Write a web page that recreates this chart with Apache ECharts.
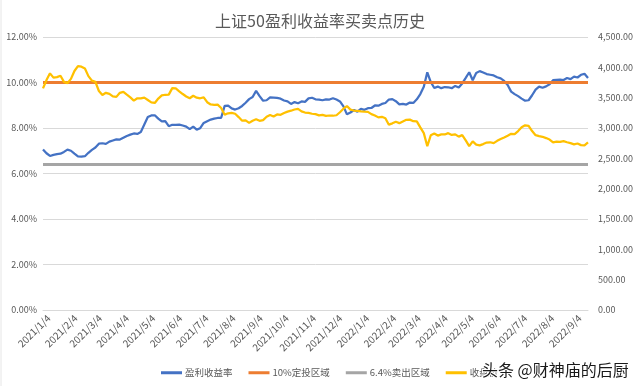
<!DOCTYPE html>
<html><head><meta charset="utf-8">
<script src="https://cdn.jsdelivr.net/npm/echarts@6/dist/echarts.min.js"></script>
<style>html,body{margin:0;padding:0;background:#fff}#c{width:640px;height:386px}</style>
</head><body><div id="c"></div>
<script>
// ---- data ----
const firstDate = '2021-01-04';
const stepDays = 4; // one sample every 4 calendar days
const seriesNames = ['盈利收益率', '10%定投区域', '6.4%卖出区域', '收盘价'];
// 上证50 earnings yield (%)
const yieldValues = [
  7.06, 6.89, 6.77, 6.82, 6.85, 6.87, 6.95, 7.05, 7.00, 6.87,
  6.75, 6.74, 6.76, 6.91, 7.04, 7.14, 7.31, 7.33, 7.30, 7.40,
  7.45, 7.50, 7.49, 7.57, 7.65, 7.71, 7.76, 7.74, 7.82, 8.15,
  8.48, 8.55, 8.56, 8.41, 8.29, 8.30, 8.08, 8.14, 8.14, 8.15,
  8.11, 8.06, 7.95, 8.06, 7.93, 7.99, 8.22, 8.30, 8.37, 8.41,
  8.44, 8.45, 8.97, 8.98, 8.86, 8.81, 8.87, 8.97, 9.11, 9.27,
  9.36, 9.63, 9.40, 9.20, 9.22, 9.35, 9.34, 9.32, 9.29, 9.21,
  9.17, 9.06, 9.14, 9.09, 9.17, 9.15, 9.30, 9.33, 9.26, 9.25,
  9.22, 9.26, 9.25, 9.31, 9.25, 9.17, 8.95, 8.60, 8.68, 8.79,
  8.72, 8.84, 8.80, 8.87, 8.88, 8.99, 8.98, 9.06, 9.10, 9.25,
  9.27, 9.18, 9.04, 9.06, 9.03, 9.12, 9.10, 9.26, 9.49, 9.81,
  10.45, 10.02, 9.76, 9.82, 9.75, 9.80, 9.79, 9.75, 9.85, 9.78,
  9.96, 10.20, 10.45, 10.10, 10.42, 10.50, 10.44, 10.37, 10.34, 10.31,
  10.23, 10.18, 10.07, 9.89, 9.60, 9.49, 9.40, 9.29, 9.20, 9.22,
  9.44, 9.69, 9.82, 9.77, 9.83, 9.92, 10.10, 10.12, 10.13, 10.11,
  10.20, 10.15, 10.26, 10.22, 10.34, 10.38, 10.20
];
// 上证50 close
const closeValues = [
  3654, 3790, 3901, 3830, 3838, 3862, 3760, 3740, 3810, 3940,
  4020, 4010, 3980, 3855, 3780, 3760, 3610, 3545, 3580, 3563,
  3520, 3513, 3580, 3596, 3550, 3505, 3452, 3490, 3490, 3500,
  3462, 3423, 3413, 3485, 3537, 3548, 3550, 3657, 3652, 3605,
  3560, 3520, 3490, 3531, 3500, 3490, 3505, 3425, 3388, 3382,
  3385, 3330, 3220, 3242, 3250, 3235, 3180, 3120, 3125, 3085,
  3120, 3145, 3118, 3130, 3185, 3214, 3190, 3224, 3217, 3246,
  3270, 3285, 3305, 3315, 3275, 3255, 3250, 3235, 3228, 3208,
  3216, 3200, 3206, 3202, 3210, 3260, 3318, 3362, 3303, 3288,
  3282, 3275, 3270, 3266, 3228, 3206, 3175, 3185, 3162, 3055,
  3077, 3102, 3080, 3108, 3135, 3138, 3112, 3110, 3010, 2915,
  2700, 2880, 2910, 2875, 2894, 2893, 2915, 2886, 2895, 2858,
  2883, 2795, 2700, 2780, 2727, 2714, 2735, 2760, 2765, 2750,
  2788, 2818, 2845, 2874, 2905, 2900, 2950, 3012, 3045, 3035,
  2950, 2882, 2866, 2855, 2834, 2810, 2763, 2775, 2770, 2783,
  2765, 2750, 2731, 2745, 2718, 2712, 2762
];
const buyLevel = 10;   // 10%定投区域
const sellLevel = 6.4; // 6.4%卖出区域
const monthLabels = [
  '2021/1/4','2021/2/4','2021/3/4','2021/4/4','2021/5/4','2021/6/4','2021/7/4',
  '2021/8/4','2021/9/4','2021/10/4','2021/11/4','2021/12/4','2022/1/4','2022/2/4',
  '2022/3/4','2022/4/4','2022/5/4','2022/6/4','2022/7/4','2022/8/4','2022/9/4'
];

// ---- helpers ----
const DAY = 86400000;
function utc(y, m, d) { return Date.UTC(y, m - 1, d); }
const fp = firstDate.split('-').map(Number);
const t0 = utc(fp[0], fp[1], fp[2]);
function offsetOf(label) { const p = label.split('/').map(Number); return Math.round((utc(p[0], p[1], p[2]) - t0) / DAY); }
function labelOf(off) { const d = new Date(t0 + off * DAY); return d.getUTCFullYear() + '/' + (d.getUTCMonth() + 1) + '/' + d.getUTCDate(); }
const sampleDays = yieldValues.map((_, i) => i * stepDays);
const lastDay = sampleDays[sampleDays.length - 1];
const tickDays = monthLabels.map(offsetOf);

const font = 'Noto Sans CJK SC';
const axisText = { color: '#595959', fontSize: 9, fontFamily: font };

const chart = echarts.init(document.getElementById('c'), null, { renderer: 'canvas' });
chart.setOption({
  animation: false,
  backgroundColor: '#fff',
  title: {
    text: '上证50盈利收益率买卖点历史', left: 'center', top: 8,
    textStyle: { fontSize: 16, fontWeight: 'normal', color: '#595959', fontFamily: font }
  },
  legend: {
    left: 156, top: 363, icon: 'rect', itemWidth: 21, itemHeight: 3, itemGap: 16,
    data: seriesNames,
    textStyle: { color: '#595959', fontSize: 9.5, fontFamily: font, padding: [0, 0, 0, -2] }
  },
  grid: { left: 43, right: 52, top: 37, bottom: 76 },
  xAxis: {
    type: 'value', min: 0, max: lastDay,
    splitLine: { show: false },
    axisLine: { show: true, lineStyle: { color: '#D9D9D9' } },
    axisTick: { show: false },
    axisLabel: {
      customValues: tickDays, rotate: 45, margin: 12,
      padding: [0, -8, 0, 0],
      formatter: v => labelOf(v),
      color: '#595959', fontSize: 10, fontFamily: font
    }
  },
  yAxis: [
    {
      type: 'value', min: 0, max: 12, interval: 2,
      axisLine: { show: false }, axisTick: { show: false },
      splitLine: { lineStyle: { color: '#D9D9D9', width: 1 } },
      axisLabel: Object.assign({ margin: 6, formatter: v => v.toFixed(2) + '%' }, axisText)
    },
    {
      type: 'value', min: 0, max: 4500, interval: 500,
      axisLine: { show: false }, axisTick: { show: false },
      splitLine: { show: false },
      axisLabel: Object.assign({ margin: 10, formatter: v => v.toLocaleString('en-US', { minimumFractionDigits: 2, maximumFractionDigits: 2 }) }, axisText)
    }
  ],
  series: [
    {
      name: seriesNames[0], type: 'line', yAxisIndex: 0, showSymbol: false,
      data: yieldValues.map((v, i) => [sampleDays[i], v]),
      lineStyle: { color: '#4472C4', width: 2.25 }, itemStyle: { color: '#4472C4' }
    },
    {
      name: seriesNames[1], type: 'line', yAxisIndex: 0, showSymbol: false,
      data: sampleDays.map(d => [d, buyLevel]),
      lineStyle: { color: '#ED7D31', width: 3 }, itemStyle: { color: '#ED7D31' }
    },
    {
      name: seriesNames[2], type: 'line', yAxisIndex: 0, showSymbol: false,
      data: sampleDays.map(d => [d, sellLevel]),
      lineStyle: { color: '#A5A5A5', width: 3 }, itemStyle: { color: '#A5A5A5' }
    },
    {
      name: seriesNames[3], type: 'line', yAxisIndex: 1, showSymbol: false,
      data: closeValues.map((v, i) => [sampleDays[i], v]),
      lineStyle: { color: '#FFC000', width: 2.25 }, itemStyle: { color: '#FFC000' }
    }
  ],
  graphic: [
    { type: 'line', shape: { x1: 1, y1: 0, x2: 1, y2: 386 }, style: { stroke: '#E6E6E6', lineWidth: 1 } },
    {
      type: 'text', left: 481, top: 361, z: 100,
      style: { text: '头条 @财神庙的后厨', fontSize: 16, fill: '#1a1a1a', fontFamily: font, stroke: '#fff', lineWidth: 2 }
    }
  ]
});
</script>
</body></html>
